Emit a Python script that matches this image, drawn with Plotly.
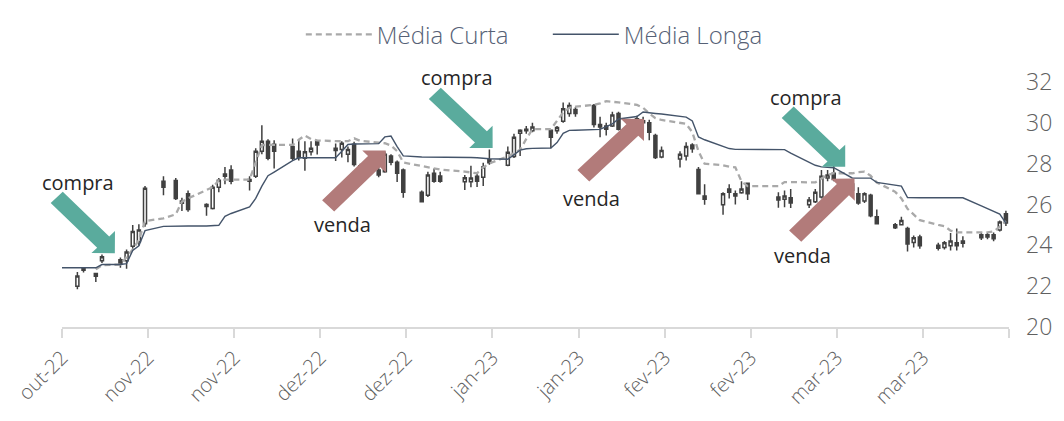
import math
import plotly.graph_objects as go

dates = ["2022-10-28", "2022-10-31", "2022-11-01", "2022-11-03", "2022-11-04",
         "2022-11-07", "2022-11-08", "2022-11-09", "2022-11-10", "2022-11-11",
         "2022-11-14", "2022-11-16", "2022-11-17", "2022-11-18",
         "2022-11-21", "2022-11-22", "2022-11-23", "2022-11-24", "2022-11-25",
         "2022-11-28", "2022-11-29", "2022-11-30", "2022-12-01", "2022-12-02",
         "2022-12-05", "2022-12-06", "2022-12-07", "2022-12-08", "2022-12-09",
         "2022-12-12", "2022-12-13", "2022-12-14", "2022-12-15", "2022-12-16",
         "2022-12-19", "2022-12-20", "2022-12-21", "2022-12-22", "2022-12-23",
         "2022-12-26", "2022-12-27", "2022-12-28", "2022-12-29",
         "2023-01-02", "2023-01-03", "2023-01-04", "2023-01-05", "2023-01-06",
         "2023-01-09", "2023-01-10", "2023-01-11", "2023-01-12", "2023-01-13",
         "2023-01-16", "2023-01-17", "2023-01-18", "2023-01-19", "2023-01-20",
         "2023-01-23", "2023-01-24", "2023-01-25", "2023-01-26", "2023-01-27",
         "2023-01-30", "2023-01-31", "2023-02-01", "2023-02-02", "2023-02-03",
         "2023-02-06", "2023-02-07", "2023-02-08", "2023-02-09", "2023-02-10",
         "2023-02-13", "2023-02-14", "2023-02-15", "2023-02-16", "2023-02-17",
         "2023-02-22", "2023-02-23", "2023-02-24",
         "2023-02-27", "2023-02-28", "2023-03-01", "2023-03-02", "2023-03-03",
         "2023-03-06", "2023-03-07", "2023-03-08", "2023-03-09", "2023-03-10",
         "2023-03-13", "2023-03-14", "2023-03-15", "2023-03-16", "2023-03-17",
         "2023-03-20", "2023-03-21", "2023-03-22", "2023-03-23", "2023-03-24",
         "2023-03-27", "2023-03-28", "2023-03-29", "2023-03-30", "2023-03-31"]

open_ = [22.92, 22.0, 22.85, 22.62, 23.24,
         23.29, 23.25, 23.95, 24.17, 25.06,
         27.14, 27.18, 26.17, 26.53,
         26.0, 25.8, 26.84, 27.38, 27.69,
         27.22, 27.38, 28.61, 29.1, 28.95,
         28.84, 28.61, 28.27, 28.58, 29.07,
         28.76, 28.69, 28.46, 28.95, 27.9,
         27.69, 27.6, 28.38, 28.07, 27.69,
         26.6, 26.45, 27.53, 27.4,
         27.12, 27.12, 27.38, 27.33, 28.19,
         27.92, 28.35, 29.49, 29.69, 29.61,
         29.64, 29.61, 30.08, 30.46, 30.65,
         30.85, 29.92, 29.85, 29.85, 30.46,
         30.2, 30.0, 30.0, 29.38, 28.33,
         28.23, 28.38, 28.92, 27.72, 26.42,
         25.99, 26.76, 26.53, 26.57, 27.04,
         26.37, 26.26, 26.33,
         25.99, 26.14, 26.37, 27.3, 27.53,
         27.0, 26.53, 26.17, 26.45, 25.4,
         25.01, 25.01, 24.83, 24.14, 24.41,
         24.01, 23.9, 23.98, 24.13, 24.21,
         24.52, 24.52, 24.52, 24.75, 25.55]

high = [22.95, 22.7, 22.93, 22.65, 23.55,
        23.4, 23.8, 24.99, 25.03, 26.91,
        27.38, 27.3, 26.33, 26.68,
        26.06, 26.97, 27.3, 27.84, 27.92,
        27.38, 28.76, 29.88, 29.2, 29.15,
        29.23, 29.2, 29.1, 29.1, 29.1,
        28.99, 29.1, 28.84, 29.07, 28.0,
        27.84, 28.6, 28.46, 28.15, 27.76,
        26.68, 27.6, 27.76, 27.6,
        27.45, 27.9, 27.53, 28.04, 28.69,
        28.84, 29.46, 29.69, 29.84, 30.0,
        29.69, 29.84, 31.0, 31.0, 30.77,
        30.92, 30.3, 30.0, 30.54, 30.54,
        30.35, 30.3, 30.15, 29.46, 28.84,
        28.61, 29.05, 29.0, 27.84, 26.99,
        26.6, 26.99, 26.68, 27.14, 27.07,
        26.6, 26.68, 26.76,
        26.37, 26.76, 27.69, 27.69, 27.92,
        27.1, 26.84, 26.6, 26.53, 25.75,
        25.1, 25.4, 24.91, 24.48, 24.52,
        24.13, 24.21, 24.6, 24.83, 24.44,
        24.63, 24.6, 24.63, 25.22, 25.7]

low = [22.3, 21.85, 22.67, 22.2, 23.13,
       22.9, 22.85, 23.83, 23.98, 24.91,
       26.45, 26.22, 25.68, 25.65,
       25.45, 25.75, 26.6, 26.99, 26.99,
       26.68, 27.3, 28.46, 28.17, 27.76,
       28.18, 28.15, 27.65, 28.4, 28.45,
       28.13, 28.3, 28.07, 27.86, 27.45,
       27.34, 27.55, 27.92, 27.1, 26.33,
       26.1, 26.37, 27.07, 27.07,
       26.71, 26.84, 26.86, 26.91, 27.95,
       27.87, 28.28, 28.38, 29.46, 29.54,
       28.76, 29.46, 30.0, 30.3, 30.3,
       29.77, 29.3, 29.38, 29.8, 29.62,
       29.8, 29.8, 29.15, 28.23, 28.27,
       27.81, 28.15, 28.53, 26.5, 25.99,
       25.5, 26.3, 26.0, 26.53, 26.22,
       25.84, 25.87, 25.83,
       25.83, 26.07, 26.3, 27.14, 27.14,
       26.6, 25.99, 26.07, 25.37, 25.02,
       24.8, 24.99, 23.7, 23.9, 23.83,
       23.75, 23.79, 23.75, 23.75, 23.9,
       24.26, 24.3, 24.2, 24.68, 24.95]

close = [22.35, 22.5, 22.78, 22.49, 23.44,
         23.09, 23.67, 24.68, 24.75, 26.8,
         26.84, 26.3, 26.06, 25.75,
         25.9, 26.84, 27.19, 27.5, 27.14,
         27.14, 28.61, 29.1, 28.27, 28.61,
         28.27, 28.3, 28.58, 28.76, 28.92,
         28.64, 29.0, 28.69, 27.96, 27.6,
         27.45, 28.46, 28.07, 27.53, 26.6,
         26.14, 27.45, 27.14, 27.14,
         27.31, 27.3, 27.14, 27.84, 28.04,
         28.56, 29.3, 29.64, 29.61, 29.8,
         29.3, 29.77, 30.69, 30.85, 30.46,
         29.92, 29.8, 29.69, 30.38, 29.69,
         29.95, 30.1, 29.54, 28.3, 28.64,
         28.46, 28.84, 28.73, 26.53, 26.26,
         26.53, 26.6, 26.42, 26.76, 26.53,
         26.22, 26.42, 26.07,
         26.22, 26.6, 27.38, 27.45, 27.22,
         26.7, 26.07, 26.53, 25.45, 25.06,
         24.86, 25.22, 24.06, 24.37, 23.98,
         23.86, 24.13, 24.21, 23.98, 24.1,
         24.37, 24.41, 24.32, 25.14, 25.1]

media_curta = [None, None, None, 22.82, 23.03,
               23.06, 23.43, 23.8, 24.26, 25.19,
               25.32, 25.52, 26.14, 26.3,
               26.71, 26.85, 27.18, 27.22, 27.22,
               27.22, 28.06, 28.91, 28.92, 28.92,
               28.92, 29.17, 29.38, 29.21, 29.14,
               29.1, 29.1, 29.1, 29.24, 29.12,
               29.03, 29.0, 28.89, 28.61, 28.06,
               27.87, 27.8, 27.75, 27.71,
               27.61, 27.57, 27.53, 27.82, 28.01,
               28.36, 28.52, 28.68, 29.21, 29.69,
               29.69, 30.09, 30.51, 30.74, 30.79,
               30.88, 30.95, 31.06, 31.04, 31.0,
               30.88, 30.74, 30.46, 30.23, 30.14,
               30.0, 29.95, 29.54, 28.61, 28.0,
               27.92, 27.85, 27.82, 27.13, 26.9,
               26.9, 27.1, 27.1,
               27.1, 27.08, 27.27, 27.45, 27.53,
               27.53, 27.59, 27.61, 27.41, 27.08,
               26.62, 26.3, 25.79, 25.51, 25.23,
               25.0, 24.94, 24.72, 24.63, 24.63,
               24.63, 24.63, 24.68, 24.91, 25.19]

media_longa = [22.9, 22.9, 22.9, 22.9, 23.06,
               23.06, 23.1, 23.75, 23.98, 24.72,
               24.93, 24.95, 24.95, 24.95,
               24.95, 24.95, 24.98, 25.42, 25.56,
               25.88, 26.3, 26.9, 27.41, 27.59,
               28.15, 28.29, 28.29, 28.29, 28.29,
               28.29, 28.61, 28.94, 28.96, 28.96,
               28.98, 29.31, 29.35, 28.84, 28.38,
               28.33, 28.33, 28.33, 28.33,
               28.31, 28.3, 28.29, 28.27, 28.24,
               28.22, 28.43, 28.66, 28.73, 28.75,
               28.77, 29.03, 29.49, 29.63, 29.64,
               29.65, 29.68, 29.81, 29.95, 30.19,
               30.31, 30.53, 30.51, 30.46, 30.43,
               30.32, 30.28, 30.09, 29.31, 29.17,
               28.84, 28.74, 28.7, 28.7, 28.7,
               28.7, 28.69, 28.52,
               28.1, 27.92, 27.84, 27.82, 27.8,
               27.3, 27.3, 27.3, 27.29, 27.08,
               26.94, 26.9, 26.34, 26.33, 26.33,
               26.33, 26.33, 26.33, 26.33, 26.33,
               25.93, 25.79, 25.67, 25.53, 25.09]

tick_dates = ["2022-10-28 12:00", "2022-11-11 12:00", "2022-11-25 12:00", "2022-12-09 12:00",
              "2022-12-23 12:00", "2023-01-06 12:00", "2023-01-20 12:00", "2023-02-03 12:00",
              "2023-02-17 12:00", "2023-03-03 12:00", "2023-03-17 12:00", "2023-03-31 12:00"]
tick_labels = ["out-22", "nov-22", "nov-22", "dez-22", "dez-22", "jan-23", "jan-23",
               "fev-23", "fev-23", "mar-23", "mar-23", ""]
y_ticks = [20, 22, 24, 26, 28, 30, 32]

signals = ["compra", "venda", "compra", "venda", "compra", "venda"]

W, H = 1064, 421
ML, MR, MT, MB = 62, 52, 77, 85
PW, PH = W - ML - MR, H - MT - MB
FONT = "Open Sans, Lato, sans-serif"


def px2paper(px, py):
    return (px - ML) / PW, (H - MB - py) / PH


def arrow_path(tail, tip, sw=17.0, hw=16.6, hl=16.6):
    tx, ty = tail
    px_, py_ = tip
    L = math.hypot(px_ - tx, py_ - ty)
    dx, dy = (px_ - tx) / L, (py_ - ty) / L
    nx, ny = -dy, dx
    bx, by = px_ - dx * hl, py_ - dy * hl
    pts = [(tx + nx * sw / 2, ty + ny * sw / 2),
           (bx + nx * sw / 2, by + ny * sw / 2),
           (bx + nx * hw, by + ny * hw),
           (px_, py_),
           (bx - nx * hw, by - ny * hw),
           (bx - nx * sw / 2, by - ny * sw / 2),
           (tx - nx * sw / 2, ty - ny * sw / 2)]
    s = ""
    for i, (x, y) in enumerate(pts):
        xp, yp = px2paper(x, y)
        s += ("M" if i == 0 else "L") + f"{xp:.5f},{yp:.5f} "
    return s + "Z"


DARK = "#404040"
GREEN = "#5aab9d"
PINK = "#b27b7a"

fig = go.Figure()
fig.add_trace(go.Candlestick(
    x=dates, open=open_, high=high, low=low, close=close,
    increasing=dict(fillcolor="white", line=dict(color=DARK, width=1.5)),
    decreasing=dict(fillcolor=DARK, line=dict(color=DARK, width=1.5)),
    showlegend=False, hoverinfo="skip"))
fig.add_trace(go.Scatter(
    x=dates, y=media_curta, mode="lines", name="Média Curta",
    line=dict(color="#a9a9a9", width=2.3, dash="6px,4px")))
fig.add_trace(go.Scatter(
    x=dates, y=media_longa, mode="lines", name="Média Longa",
    line=dict(color="#44546a", width=1.4)))

arrow_specs = [
    ((56.7, 199.0), (115.0, 258.0), GREEN),
    ((329.0, 208.0), (386.7, 149.3), PINK),
    ((436.0, 89.0), (494.0, 146.7), GREEN),
    ((585.0, 176.0), (646.0, 116.0), PINK),
    ((790.0, 109.0), (847.7, 166.7), GREEN),
    ((797.5, 240.0), (857.0, 179.0), PINK),
]
for tail, tip, col in arrow_specs:
    fig.add_shape(type="path", path=arrow_path(tail, tip), xref="paper", yref="paper",
                  fillcolor=col, line=dict(width=0), layer="above")

text_pos = [(78, 183), (343, 228), (458, 72), (593, 200), (808, 93), (805, 260)]
for (tx, ty), lab in zip(text_pos, signals):
    xp, yp = px2paper(tx, ty)
    fig.add_annotation(x=xp, y=yp, xref="paper", yref="paper", text=lab,
                       showarrow=False, xanchor="center", yanchor="middle",
                       font=dict(family=FONT, size=20, color="#262626"))

fig.update_layout(
    width=W, height=H,
    margin=dict(l=ML, r=MR, t=MT, b=MB),
    paper_bgcolor="white", plot_bgcolor="white",
    font=dict(family=FONT, color="#595959"),
    showlegend=True,
    legend=dict(orientation="h", x=0.513, xanchor="center", y=(H - MB - 27) / PH, yanchor="middle",
                font=dict(family=FONT, size=24, color="#566176", weight=300),
                itemwidth=66, entrywidth=166, traceorder="normal",
                bgcolor="rgba(0,0,0,0)"),
    xaxis=dict(type="date", range=["2022-10-28 11:59", "2023-03-31 12:01"],
               rangeslider=dict(visible=False),
               tickmode="array", tickvals=tick_dates, ticktext=tick_labels,
               tickangle=-45, tickfont=dict(family=FONT, size=20, color="#606060", weight=300),
               showgrid=False, zeroline=False,
               showline=True, linecolor="#d9d9d9", linewidth=2,
               ticks="outside", ticklen=9, tickcolor="#d9d9d9", tickwidth=1.5),
    yaxis=dict(range=[20, 32], side="right", tickmode="array", tickvals=y_ticks,
               tickfont=dict(family=FONT, size=23, color="#606060", weight=300),
               showgrid=False, zeroline=False,
               showline=False, ticks="", ticklabelstandoff=16),
)

fig.write_html("out.html")
